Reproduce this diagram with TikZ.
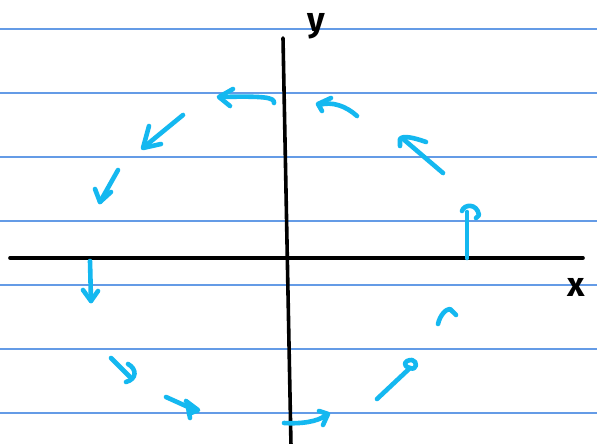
\documentclass[tikz,border=0pt]{standalone}
\usepackage{fontspec}
\setsansfont{Fira Sans}
\definecolor{rule}{RGB}{100,155,230}
\definecolor{pen}{RGB}{20,184,240}
\begin{document}
\begin{tikzpicture}[x=1pt,y=-1pt,
  ruleline/.style={rule,line width=1.4pt},
  axis/.style={black,line width=3.6pt,line cap=round},
  stroke/.style={pen,line width=4.6pt,line cap=round,line join=round},
  lbl/.style={font=\sffamily\bfseries\fontsize{34}{34}\selectfont,inner sep=0pt}]
\useasboundingbox[fill=white] (0,0) rectangle (597,444);
% ruled lines
\foreach \yy in {29,93,157,221,285,349,413}
  \draw[ruleline] (0,\yy) -- (597,\yy);
% axes
\coordinate (xl) at (10,258); \coordinate (xr) at (583,258);
\coordinate (yt) at (283,38); \coordinate (yb) at (291,446);
\draw[axis] (xl) -- (xr);
\draw[axis] (yt) -- (yb);
\node[lbl,anchor=base] (ylab) at (316,32) {y};
\node[lbl,anchor=base] (xlab) at (576,296) {x};
% arrows around the circle
% 1 right, pointing up
\draw[stroke] (467,258) -- (467,212);
\draw[stroke] (462,211) .. controls (464,204) and (477,203) .. (479,215) -- (476,218);
% 2
\draw[stroke] (443,173) -- (402,138);
\draw[stroke] (400,146) -- (400,139) .. controls (403,135) and (415,138) .. (426,142);
% 3
\draw[stroke] (357,116) .. controls (346,106) and (332,101) .. (319,105);
\draw[stroke] (331,98) -- (318,104) -- (322,111);
% 4
\draw[stroke] (274,103) .. controls (275,97) and (262,96) .. (220,97);
\draw[stroke] (233,89) -- (219,97) -- (230,106);
% 5
\draw[stroke] (183,115) -- (144,147);
\draw[stroke] (149,126) -- (143,148) -- (161,144);
% 6
\draw[stroke] (118,170) -- (100,202);
\draw[stroke] (95,189) -- (100,202) -- (111,192);
% 7
\draw[stroke] (90,261) -- (91,301);
\draw[stroke] (83,290) -- (91,301) -- (98,291);
% 8
\draw[stroke] (111,358) -- (130,377);
\draw[stroke] (128,364) .. controls (137,369) and (137,379) .. (126,382);
% 9
\draw[stroke] (166,397) -- (197,411);
\draw[stroke] (187,402) -- (190,418);
\draw[stroke] (186,401) -- (198,410) -- (189,414);
% 10 bottom
\draw[stroke] (284,423) .. controls (300,424) and (318,422) .. (326,415);
\draw[stroke] (319,411) -- (328,414) -- (323,425);
% 11
\draw[stroke] (377,399) -- (410,368);
\draw[stroke] (410,368) .. controls (402,366) and (404,360) .. (412,360) .. controls (418,361) and (417,371) .. (410,368);
% 12
\draw[stroke] (438,324) .. controls (440,315) and (446,309) .. (450,309) -- (456,315);
\end{tikzpicture}
\end{document}
